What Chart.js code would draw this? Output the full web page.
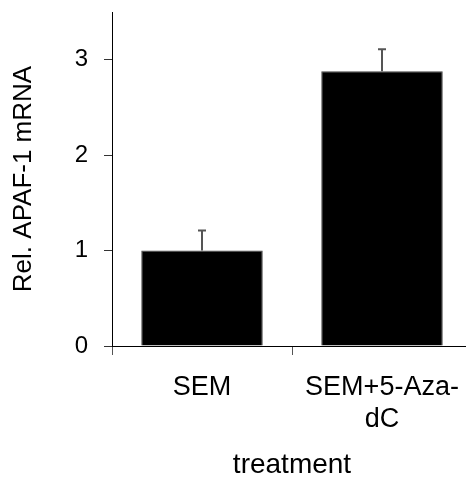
<!DOCTYPE html>
<html lang="en">
<head>
    <meta charset="UTF-8">
    <title>Rel. APAF-1 mRNA</title>
    <style>
        body {
            margin: 0;
            padding: 0;
            background: white;
            overflow: hidden;
        }

        /* the plot area runs a few pixels past the right edge, like the original */
        .chart-box {
            width: 472px;
            height: 479px;
        }
    </style>
</head>
<body>

    <div class="chart-box">
        <canvas id="mrnaChart" width="472" height="479"></canvas>
    </div>

    <script src="https://cdn.jsdelivr.net/npm/chart.js"></script>
    <script>
        // Data
        const categories = ['SEM', 'SEM+5-Aza-dC'];
        const xTickLabels = [['SEM'], ['SEM+5-Aza-', 'dC']];
        const values = [1.0, 2.88];
        const errors = [0.21, 0.23];
        const yTicks = [0, 1, 2, 3];

        const fontFamily = '"Liberation Sans", Arial, Helvetica, sans-serif';

        // Draws the upper error bar on top of each bar
        const errorBars = {
            id: 'errorBars',
            afterDatasetsDraw(chart) {
                const ctx = chart.ctx;
                const yScale = chart.scales.y;
                const meta = chart.getDatasetMeta(0);
                ctx.save();
                ctx.strokeStyle = '#555';
                ctx.lineWidth = 2;
                meta.data.forEach(function(bar, i) {
                    const yBase = yScale.getPixelForValue(values[i]);
                    const yTop = yScale.getPixelForValue(values[i] + errors[i]);
                    ctx.beginPath();
                    ctx.moveTo(bar.x, yBase);
                    ctx.lineTo(bar.x, yTop);
                    ctx.moveTo(bar.x - 4, yTop);
                    ctx.lineTo(bar.x + 4, yTop);
                    ctx.stroke();
                });
                ctx.restore();
            }
        };

        const ctx = document.getElementById('mrnaChart').getContext('2d');
        const mrnaChart = new Chart(ctx, {
            type: 'bar',
            data: {
                labels: xTickLabels,
                datasets: [{
                    label: 'Rel. APAF-1 mRNA',
                    data: values,
                    backgroundColor: '#000',
                    borderColor: '#444',
                    borderWidth: 1,
                    barPercentage: 0.675,
                    categoryPercentage: 1.0
                }]
            },
            options: {
                responsive: false,
                animation: false,
                layout: {
                    padding: { top: 12, left: 0, right: 0, bottom: 0 }
                },
                plugins: {
                    legend: { display: false },
                    tooltip: { enabled: false }
                },
                scales: {
                    x: {
                        offset: true,
                        afterFit: function(scale) {
                            scale.height = 133;
                            scale.paddingLeft = 0;
                            scale.paddingRight = 0;
                        },
                        border: { display: true, color: '#000', width: 1 },
                        grid: {
                            display: true,
                            offset: true,
                            drawOnChartArea: false,
                            drawTicks: true,
                            tickLength: 9,
                            color: '#555'
                        },
                        ticks: {
                            color: '#000',
                            padding: 16,
                            maxRotation: 0,
                            autoSkip: false,
                            font: { family: fontFamily, size: 27 }
                        },
                        title: {
                            display: true,
                            text: 'treatment',
                            color: '#000',
                            padding: { top: 0, bottom: 0 },
                            font: { family: fontFamily, size: 28, lineHeight: 1.0 }
                        }
                    },
                    y: {
                        min: 0,
                        max: 3.5,
                        afterFit: function(scale) {
                            scale.width = 112;
                            scale.paddingTop = 0;
                            scale.paddingBottom = 0;
                        },
                        afterBuildTicks: function(scale) {
                            scale.ticks = yTicks.map(function(v) { return { value: v }; });
                        },
                        border: { display: true, color: '#000', width: 1 },
                        grid: {
                            display: true,
                            drawOnChartArea: false,
                            drawTicks: true,
                            tickLength: 8,
                            color: '#333'
                        },
                        ticks: {
                            color: '#000',
                            padding: 16,
                            font: { family: fontFamily, size: 24 }
                        },
                        title: {
                            display: true,
                            text: 'Rel. APAF-1 mRNA',
                            color: '#000',
                            padding: { top: 8.5, bottom: 0 },
                            font: { family: fontFamily, size: 26 }
                        }
                    }
                }
            },
            plugins: [errorBars]
        });
    </script>

</body>
</html>
